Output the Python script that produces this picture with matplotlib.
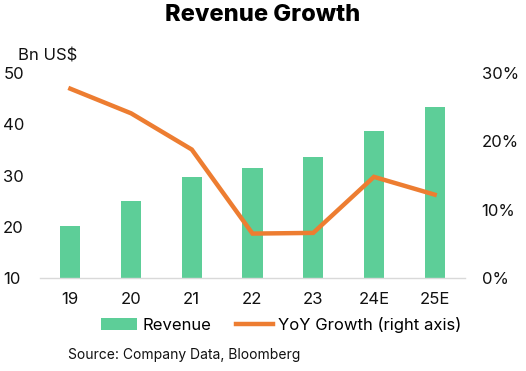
import matplotlib
matplotlib.use("Agg")
import matplotlib.pyplot as plt
import numpy as np
from matplotlib.patches import Patch
from matplotlib.lines import Line2D

categories = ["19", "20", "21", "22", "23", "24E", "25E"]
revenue = [20.1, 25.0, 29.8, 31.5, 33.6, 38.7, 43.4]
yoy_growth = [27.7, 24.1, 18.8, 6.5, 6.6, 14.8, 12.2]
left_ticks = [10, 20, 30, 40, 50]
right_ticks = [0, 10, 20, 30]

GREEN = "#5DCE98"
ORANGE = "#ED7D31"
plt.rcParams['font.family'] = ['Inter', 'DejaVu Sans']

W, H = 526, 371
fig = plt.figure(figsize=(W/100, H/100), dpi=100)
ax = fig.add_axes([40/W, 1-278/H, (465-40)/W, (278-73)/H])
x = np.arange(len(categories))
ax.bar(x, revenue, width=0.33, color=GREEN, bottom=0, zorder=2)
ax.set_ylim(10, 50)
ax.set_xlim(-0.5, len(categories)-0.5)
ax.set_yticks(left_ticks)
ax.set_yticklabels([str(t) for t in left_ticks])
ax.set_xticks(x)
ax.set_xticklabels(categories)
for s in ["top", "right", "left"]:
    ax.spines[s].set_visible(False)
ax.spines["bottom"].set_color("#D9D9D9")
ax.spines["bottom"].set_linewidth(1)
ax.tick_params(axis="both", length=0, labelsize=12, colors="#111111")
ax.tick_params(axis="x", pad=10)
for lab in ax.get_yticklabels():
    lab.set_horizontalalignment("left")
ax.tick_params(axis="y", pad=26.5)

ax2 = ax.twinx()
ax2.plot(x, yoy_growth, color=ORANGE, lw=3.2, solid_joinstyle="miter", zorder=3)
ax2.set_ylim(0, 30)
ax2.set_yticks(right_ticks)
ax2.set_yticklabels([f"{t}%" for t in right_ticks])
for s in ["top", "right", "left", "bottom"]:
    ax2.spines[s].set_visible(False)
ax2.tick_params(axis="y", length=0, labelsize=12, colors="#111111", pad=12)

fig.text(263/W, 1-15/H, "Revenue Growth", ha="center", va="center",
         fontsize=17, fontweight="heavy", color="#000000")
fig.text(18/W, 1-56/H, "Bn US$", ha="left", va="center", fontsize=12, color="#111111")
fig.text(68/W, 1-355/H, "Source: Company Data, Bloomberg", ha="left", va="center",
         fontsize=10, color="#111111")

handles = [Patch(facecolor=GREEN, edgecolor="none"),
           Line2D([0], [0], color=ORANGE, lw=3.2)]
fig.legend(handles, ["Revenue", "YoY Growth (right axis)"], loc="center",
           bbox_to_anchor=(281/W, 1-325/H), ncol=2, frameon=False,
           fontsize=12, handlelength=2.2, handletextpad=0.3, columnspacing=1.5,
           borderaxespad=0)

fig.savefig("out.png", dpi=100)
